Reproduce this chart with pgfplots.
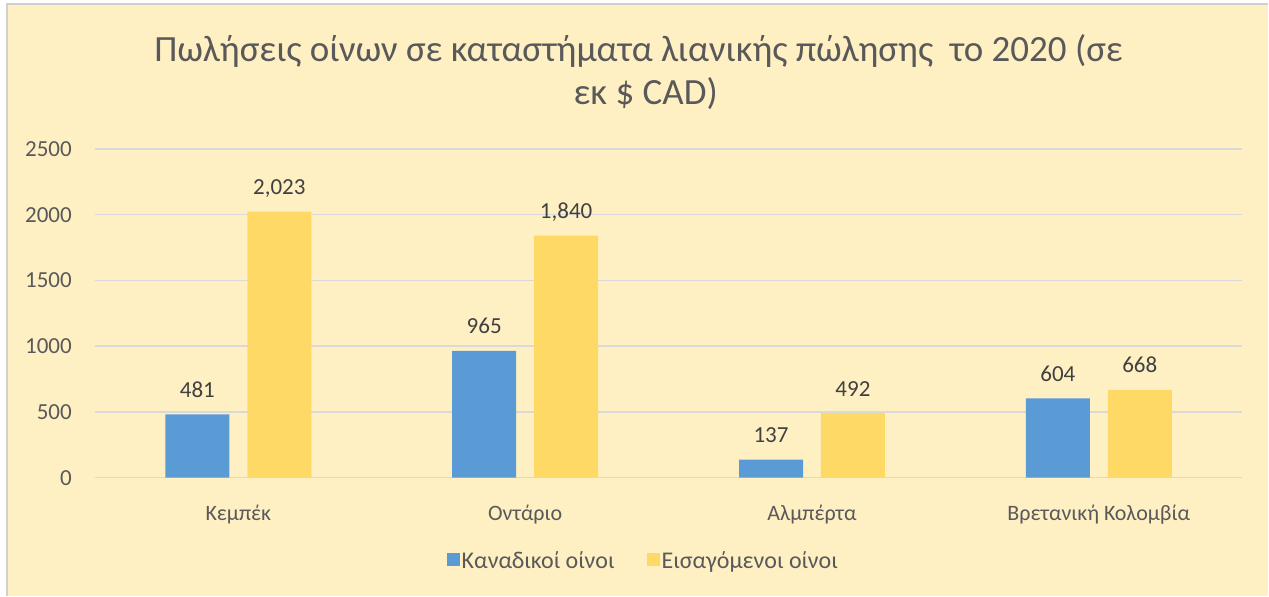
\documentclass[border=0pt]{standalone}
\usepackage{fontspec}
\setmainfont{Carlito}
\usepackage{pgfplots}
\pgfplotsset{compat=1.18}

\definecolor{barblue}{HTML}{5B9BD5}
\definecolor{baryellow}{HTML}{FFD966}
\definecolor{bgfill}{HTML}{FFF0C4}
\definecolor{gridgray}{HTML}{D9D9D9}
\definecolor{txtgray}{HTML}{595959}
\definecolor{lblgray}{HTML}{404040}
\definecolor{frame}{HTML}{D0D0D0}

\begin{document}
\begin{tikzpicture}
% page: 1px = 1pt
\path (0pt,0pt) rectangle (1269pt,596pt);
\fill[bgfill] (7pt,0pt) rectangle (1269pt,592pt);
\draw[frame, line width=1.5pt] (7pt,0pt) -- (7pt,592pt) -- (1269pt,592pt);

\node[anchor=base, text=txtgray, font=\fontsize{37}{44}\selectfont, inner sep=0pt]
  at (639pt,534pt) {Πωλήσεις οίνων σε καταστήματα λιανικής πώλησης\ \ το 2020 (σε};
\node[anchor=base, text=txtgray, font=\fontsize{37}{44}\selectfont, inner sep=0pt]
  at (646pt,491pt) {εκ \$ CAD)};

\begin{axis}[
    at={(95pt,118pt)}, anchor=south west,
    scale only axis,
    width=1148pt, height=329pt,
    ybar, bar width=64pt,
    xmin=-0.5, xmax=3.5,
    ymin=0, ymax=2500,
    xtick={0,1,2,3},
    xticklabels={Κεμπέκ, Οντάριο, Αλμπέρτα, Βρετανική Κολομβία},
    ytick={0,500,1000,1500,2000,2500},
    /pgf/number format/assume math mode=true,
    yticklabel style={/pgf/number format/1000 sep={}, anchor=east, inner sep=0pt, xshift=-23pt,
        font=\fontsize{23}{27}\selectfont, text=txtgray},
    xticklabel style={anchor=base, inner sep=0pt, yshift=-39pt,
        font=\fontsize{22}{26}\selectfont, text=txtgray},
    axis line style={draw=none},
    tick style={draw=none},
    ymajorgrids, xmajorgrids=false,
    major grid style={gridgray, line width=1.5pt},
    nodes near coords={\pgfmathprintnumber[assume math mode=true,1000 sep={,}]{\pgfplotspointmeta}},
    every node near coord/.append style={anchor=base, inner sep=0pt, yshift=17pt,
        font=\fontsize{23}{27}\selectfont, text=lblgray},
    legend style={draw=none, fill=none, at={(0.478,-0.252)}, anchor=center,
        legend columns=2, font=\fontsize{24}{28}\selectfont, text=txtgray,
        /tikz/every even column/.append style={column sep=30pt}},
    legend image code/.code={\fill[#1] (0pt,-5pt) rectangle (13pt,8pt);},
]
\addplot[fill=barblue, draw=none, bar shift=-41pt] coordinates {
    (0,481) (1,965) (2,137) (3,604)
};
\addplot[fill=baryellow, draw=none, bar shift=41pt] coordinates {
    (0,2023) (1,1840) (2,492) (3,668)
};
\legend{Καναδικοί οίνοι, Εισαγόμενοι οίνοι}
\end{axis}
\end{tikzpicture}
\end{document}
